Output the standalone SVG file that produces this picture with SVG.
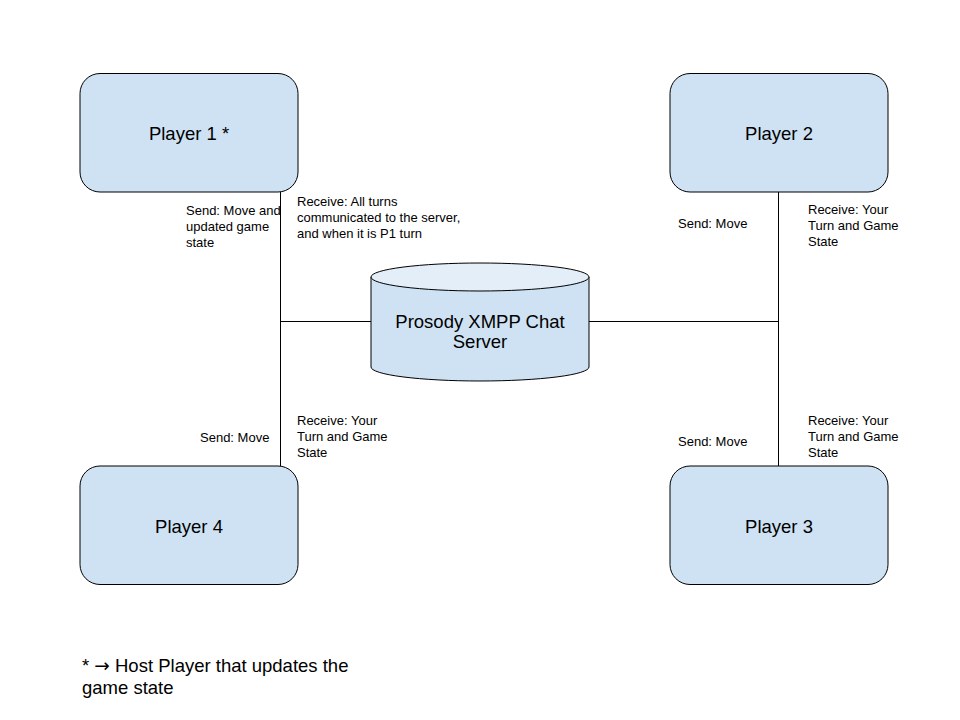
<svg xmlns="http://www.w3.org/2000/svg" width="960" height="720" viewBox="0 0 960 720">
<style>
.node{fill:#cfe2f3;stroke:#000;stroke-width:1}
.lbl{font-family:"Liberation Sans",Arial,sans-serif;font-size:18.5px;fill:#000;text-anchor:middle}
.sm{font-family:"Liberation Sans",Arial,sans-serif;font-size:13px;fill:#000}
.lg{font-family:"Liberation Sans",Arial,sans-serif;font-size:18.5px;fill:#000}
.conn{stroke:#000;stroke-width:1;fill:none}
</style>
<rect width="960" height="720" fill="#fff"/>
<g id="connectors">
<path class="conn" d="M280.5 192V466M280.5 321.5H371"/>
<path class="conn" d="M778.5 192V466M589 321.5H778.5"/>
</g>
<g id="player1">
<rect class="node" x="80" y="73.5" width="218" height="118.5" rx="20"/>
<text class="lbl" x="189" y="139.5">Player 1 *</text>
</g>
<g id="player2">
<rect class="node" x="670" y="73.5" width="218" height="118.5" rx="20"/>
<text class="lbl" x="779" y="139.5">Player 2</text>
</g>
<g id="player4">
<rect class="node" x="80" y="466" width="218" height="118.5" rx="20"/>
<text class="lbl" x="189" y="532.5">Player 4</text>
</g>
<g id="player3">
<rect class="node" x="670" y="466" width="218" height="118.5" rx="20"/>
<text class="lbl" x="779" y="532.5">Player 3</text>
</g>
<g id="server">
<path class="node" d="M371 277V367A109 14 0 0 0 589 367V277"/>
<ellipse cx="480" cy="277" rx="109" ry="14" fill="#e3eef8" stroke="#000"/>
<text class="lbl" x="480" y="327.5">Prosody XMPP Chat</text>
<text class="lbl" x="480" y="347.5">Server</text>
</g>
<g id="labels">
<text class="sm" x="186" y="215">Send: Move and</text>
<text class="sm" x="186" y="231">updated game</text>
<text class="sm" x="186" y="247">state</text>
<text class="sm" x="297" y="206">Receive: All turns</text>
<text class="sm" x="297" y="222">communicated to the server,</text>
<text class="sm" x="297" y="238">and when it is P1 turn</text>
<text class="sm" x="678" y="228">Send: Move</text>
<text class="sm" x="808" y="214">Receive: Your</text>
<text class="sm" x="808" y="230">Turn and Game</text>
<text class="sm" x="808" y="246">State</text>
<text class="sm" x="200" y="442">Send: Move</text>
<text class="sm" x="297" y="425">Receive: Your</text>
<text class="sm" x="297" y="441">Turn and Game</text>
<text class="sm" x="297" y="457">State</text>
<text class="sm" x="678" y="446">Send: Move</text>
<text class="sm" x="808" y="425">Receive: Your</text>
<text class="sm" x="808" y="441">Turn and Game</text>
<text class="sm" x="808" y="457">State</text>
</g>
<g id="legend">
<text class="lg" x="82" y="672">* <tspan font-family="'DejaVu Sans',sans-serif">→</tspan> Host Player that updates the</text>
<text class="lg" x="82" y="694">game state</text>
</g>
</svg>
